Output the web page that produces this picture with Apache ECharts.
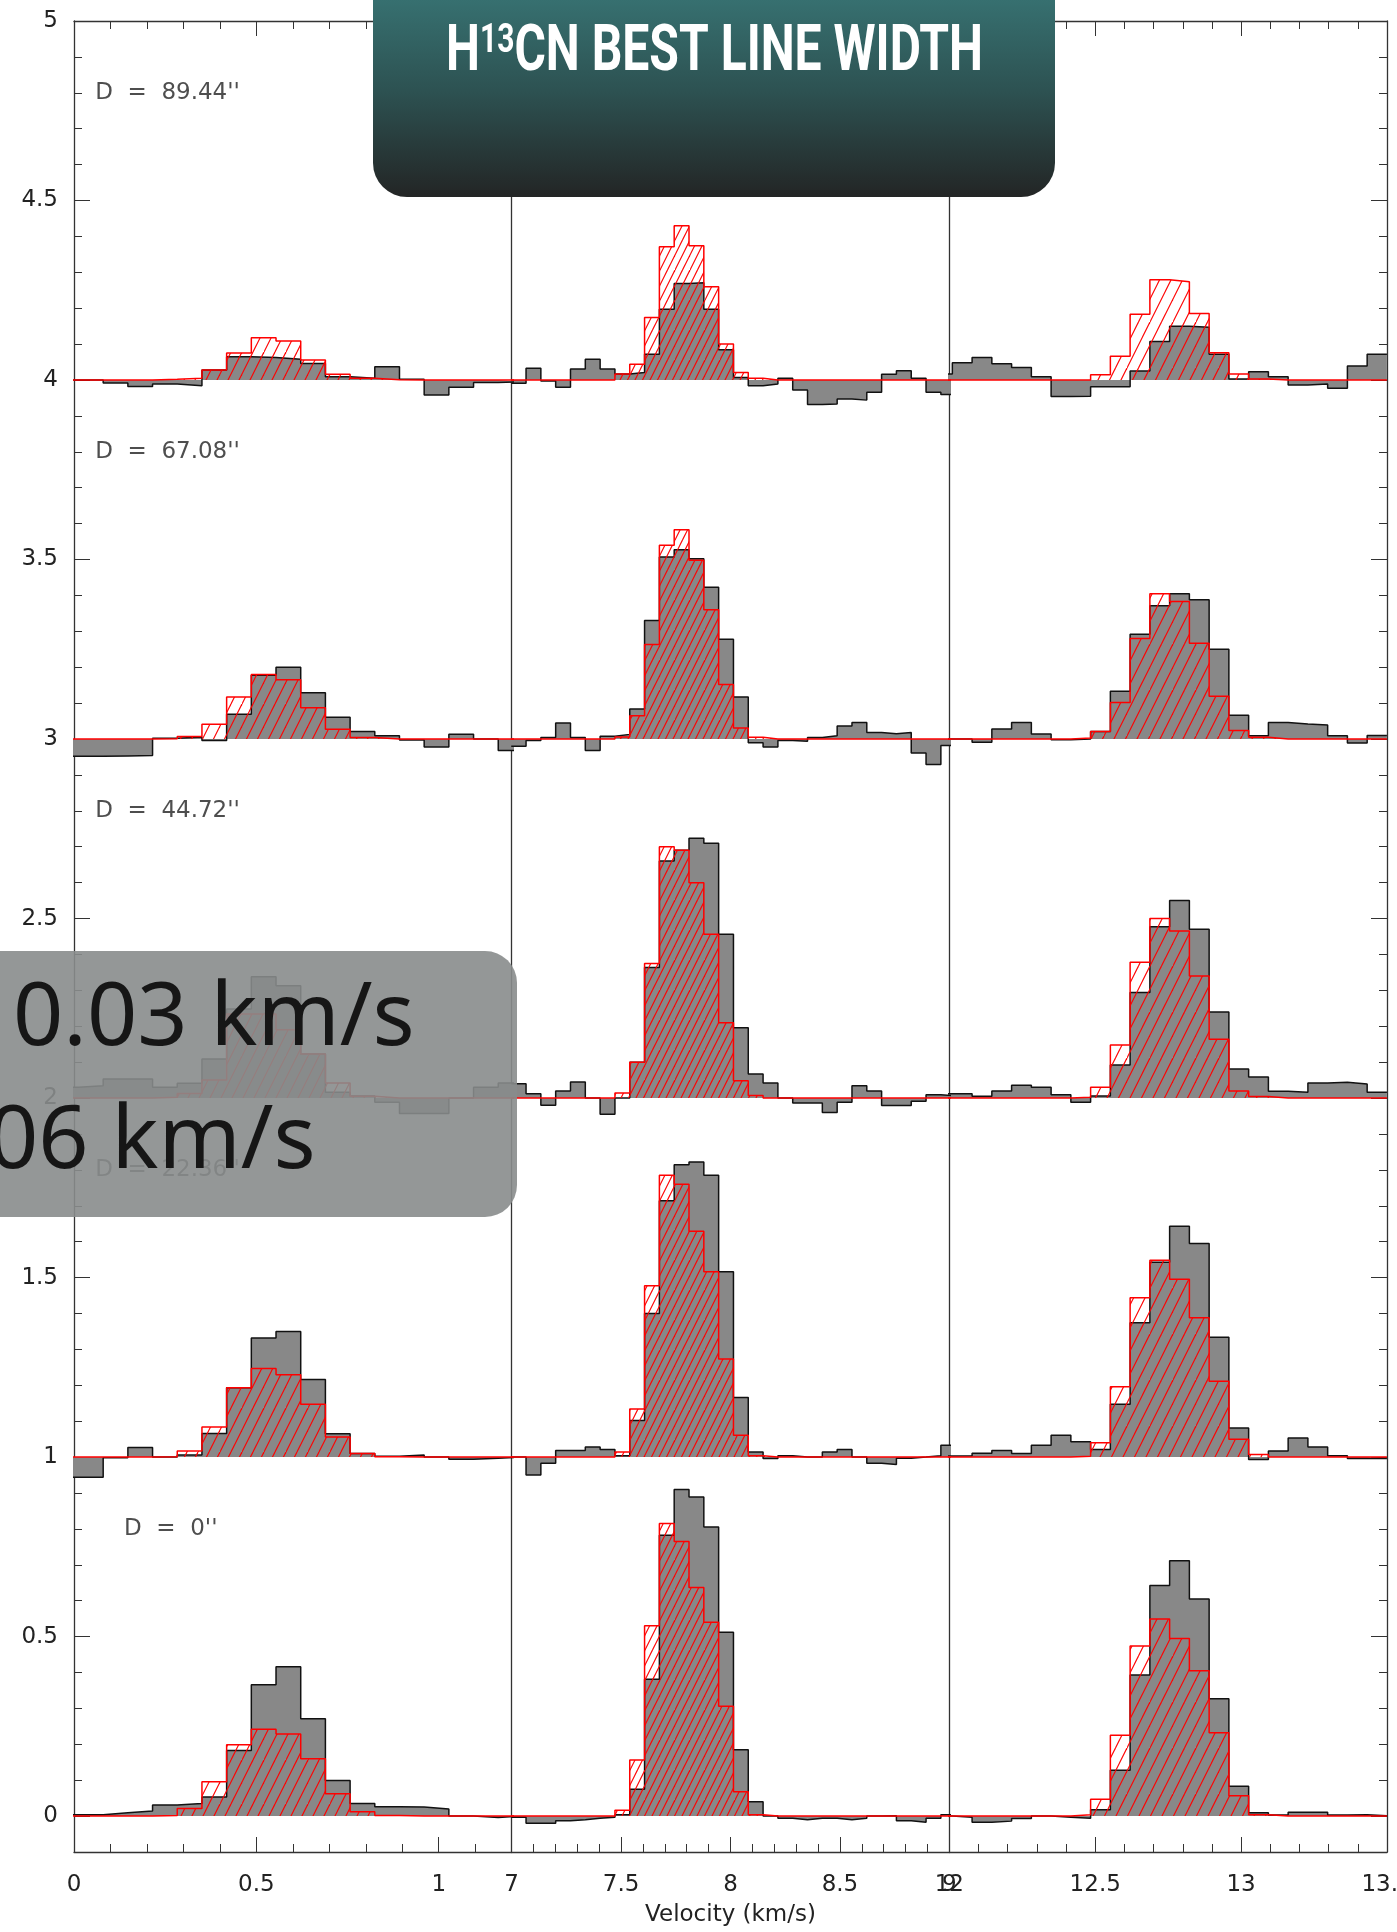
<!DOCTYPE html>
<html>
<head>
<meta charset="utf-8">
<title>H13CN best line width</title>
<script src="https://cdn.jsdelivr.net/npm/echarts@6.0.0/dist/echarts.min.js"></script>
<style>
  * { padding: 0; margin: 0; }
  #main { width: 1397px; height: 1932px; overflow: hidden; }
</style>
</head>
<body>
<div id="main"></div>
<script>
// channel width and first bin edge of each velocity window
var chanWidth = 0.0677;
var panelStart = [-0.0554, 6.998, 11.9426];
var panelRange = [[0, 1.2], [7, 9], [12, 13.5]];
var xMajor = [[0, 0.5, 1], [7, 7.5, 8, 8.5, 9], [12, 12.5, 13, 13.5]];
var yMajor = [0, 0.5, 1, 1.5, 2, 2.5, 3, 3.5, 4, 4.5, 5];
var offsets = [0, 1, 2, 3, 4];
var dLabels = ["D  =  0''", "D  =  22.36''", "D  =  44.72''", "D  =  67.08''", "D  =  89.44''"];
var dLabelX = [0.137, 0.058, 0.058, 0.058, 0.058];

// observed spectra (grey), one row per offset D = 0 ... 89.44
var obs1 = [
  [0.004, 0.004, 0.009, 0.014, 0.031, 0.035, 0.053, 0.183, 0.366, 0.416, 0.271, 0.099, 0.035, 0.026, 0.025, 0.02, 0.0, -0.004, 0.0],
  [-0.056, -0.056, -0.002, 0.027, 0.0, 0.006, 0.066, 0.193, 0.332, 0.35, 0.216, 0.065, 0.01, 0.002, 0.006, 0.0, -0.006, -0.003, 0.0],
  [0.03, 0.034, 0.053, 0.053, 0.03, 0.041, 0.109, 0.248, 0.338, 0.313, 0.123, 0.016, 0.006, -0.012, -0.043, -0.043, 0.0, 0.03, 0.042],
  [-0.048, -0.048, -0.047, -0.046, 0.002, 0.006, -0.004, 0.069, 0.178, 0.2, 0.129, 0.061, 0.021, 0.009, -0.003, -0.022, 0.013, 0.0, -0.032],
  [0.0, 0.0, -0.008, -0.018, -0.011, -0.016, 0.028, 0.065, 0.063, 0.058, 0.046, 0.009, 0.005, 0.037, 0.002, -0.042, -0.02, -0.007, -0.005]
];
var obs2 = [
  [-0.003, -0.02, -0.02, -0.013, -0.01, -0.006, -0.003, 0.004, 0.075, 0.381, 0.782, 0.91, 0.889, 0.805, 0.512, 0.185, 0.04, 0.0, -0.006, -0.01, -0.006, -0.006, -0.01, -0.006, 0.0, 0.001, -0.013, -0.017, -0.006, 0.004],
  [0.0, -0.05, -0.017, 0.018, 0.018, 0.028, 0.021, 0.004, 0.102, 0.4, 0.714, 0.814, 0.822, 0.785, 0.516, 0.166, 0.014, -0.004, 0.004, 0.0, 0.0, 0.014, 0.021, 0.0, -0.017, -0.021, -0.003, 0.0, 0.004, 0.033],
  [0.04, 0.012, -0.02, 0.02, 0.045, 0.0, -0.045, 0.0, 0.1, 0.364, 0.66, 0.69, 0.724, 0.71, 0.456, 0.196, 0.067, 0.042, 0.0, -0.014, -0.014, -0.04, -0.012, 0.034, 0.02, -0.021, -0.021, -0.009, 0.009, 0.006],
  [-0.02, -0.004, 0.004, 0.045, 0.004, -0.032, 0.008, 0.013, 0.084, 0.33, 0.507, 0.527, 0.502, 0.423, 0.278, 0.117, -0.01, -0.022, -0.004, -0.006, 0.004, 0.009, 0.036, 0.046, 0.018, 0.015, 0.018, -0.039, -0.071, -0.018],
  [-0.009, 0.033, -0.003, -0.02, 0.031, 0.058, 0.031, 0.017, 0.021, 0.072, 0.197, 0.269, 0.271, 0.197, 0.084, 0.007, -0.016, -0.011, 0.005, -0.028, -0.068, -0.067, -0.053, -0.056, -0.034, 0.016, 0.026, 0.005, -0.034, -0.04]
];
var obs3 = [
  [0.0, -0.003, -0.017, -0.014, -0.007, 0.0, -0.003, -0.006, 0.018, 0.128, 0.393, 0.642, 0.711, 0.605, 0.327, 0.083, 0.009, 0.003, 0.011, 0.011, 0.003, 0.004, 0.001],
  [0.003, 0.004, 0.011, 0.018, 0.01, 0.033, 0.061, 0.043, 0.021, 0.147, 0.374, 0.543, 0.643, 0.595, 0.334, 0.081, -0.007, 0.017, 0.053, 0.028, 0.004, -0.004, -0.004],
  [0.012, 0.012, 0.005, 0.02, 0.036, 0.03, 0.009, -0.012, 0.006, 0.092, 0.294, 0.477, 0.55, 0.47, 0.24, 0.081, 0.059, 0.019, 0.016, 0.042, 0.044, 0.039, 0.016],
  [0.0, 0.0, -0.009, 0.028, 0.046, 0.014, -0.002, 0.0, 0.021, 0.133, 0.292, 0.371, 0.405, 0.388, 0.25, 0.066, 0.009, 0.046, 0.042, 0.039, 0.009, -0.011, 0.01],
  [0.017, 0.048, 0.063, 0.045, 0.035, 0.009, -0.046, -0.045, -0.019, -0.019, 0.025, 0.107, 0.15, 0.147, 0.072, 0.003, 0.023, 0.009, -0.014, -0.011, -0.023, 0.039, 0.072]
];

// best-fit model spectra (red hatched)
var mod1 = [
  [0, 0, 0, 0, 0.002, 0.021, 0.096, 0.199, 0.242, 0.229, 0.16, 0.062, 0.012, 0.002, 0, 0, 0, 0, 0],
  [0, 0, 0, 0, 0.001, 0.017, 0.084, 0.193, 0.247, 0.229, 0.147, 0.056, 0.01, 0.001, 0, 0, 0, 0, 0],
  [0, 0, 0, 0, 0.002, 0.013, 0.05, 0.234, 0.234, 0.19, 0.123, 0.042, 0.005, 0, 0, 0, 0, 0, 0],
  [0, 0, 0, 0, 0.001, 0.007, 0.041, 0.117, 0.18, 0.165, 0.087, 0.027, 0.004, 0, 0, 0, 0, 0, 0],
  [0, 0, 0, 0, 0.002, 0.005, 0.028, 0.075, 0.118, 0.109, 0.056, 0.016, 0.005, 0.001, 0, 0, 0, 0, 0]
];
var mod2 = [
  [0, 0, 0, 0, 0, 0, 0, 0.016, 0.156, 0.53, 0.815, 0.765, 0.637, 0.54, 0.306, 0.068, 0.004, 0, 0, 0, 0, 0, 0, 0, 0, 0, 0, 0, 0, 0],
  [0, 0, 0, 0, 0, 0, 0, 0.014, 0.134, 0.477, 0.785, 0.76, 0.629, 0.516, 0.273, 0.061, 0.004, 0, 0, 0, 0, 0, 0, 0, 0, 0, 0, 0, 0, 0],
  [0, 0, 0, 0, 0, 0, 0, 0.014, 0.1, 0.375, 0.7, 0.69, 0.6, 0.456, 0.21, 0.048, 0.007, 0, 0, 0, 0, 0, 0, 0, 0, 0, 0, 0, 0, 0],
  [0, 0, 0, 0, 0, 0, 0, 0.006, 0.065, 0.263, 0.54, 0.583, 0.498, 0.36, 0.152, 0.031, 0.005, 0, 0, 0, 0, 0, 0, 0, 0, 0, 0, 0, 0, 0],
  [0, 0, 0, 0, 0, 0, 0, 0.017, 0.044, 0.174, 0.371, 0.43, 0.374, 0.26, 0.1, 0.021, 0.005, 0, 0, 0, 0, 0, 0, 0, 0, 0, 0, 0, 0, 0]
];
var mod3 = [
  [0, 0, 0, 0, 0, 0, 0, 0.004, 0.047, 0.225, 0.474, 0.549, 0.495, 0.405, 0.232, 0.057, 0.004, 0, 0, 0, 0, 0, 0],
  [0, 0, 0, 0, 0, 0, 0, 0.002, 0.04, 0.196, 0.444, 0.548, 0.495, 0.388, 0.211, 0.05, 0.007, 0, 0, 0, 0, 0, 0],
  [0, 0, 0, 0, 0, 0, 0, 0.002, 0.03, 0.148, 0.378, 0.5, 0.465, 0.34, 0.164, 0.02, 0.004, 0, 0, 0, 0, 0, 0],
  [0, 0, 0, 0, 0, 0, 0, 0.003, 0.021, 0.102, 0.28, 0.405, 0.383, 0.267, 0.119, 0.024, 0.005, 0, 0, 0, 0, 0, 0],
  [0, 0, 0, 0, 0, 0, 0, 0, 0.015, 0.066, 0.183, 0.279, 0.274, 0.185, 0.076, 0.017, 0.003, 0, 0, 0, 0, 0, 0]
];
var obsAll = [obs1, obs2, obs3];
var modAll = [mod1, mod2, mod3];

function steps(lo, hi) {
  var out = [];
  for (var v = Math.round(lo * 10); v <= Math.round(hi * 10); v++) out.push(v / 10);
  return out;
}

function stepData(start, vals, base) {
  var d = [];
  for (var i = 0; i < vals.length; i++) d.push([start + i * chanWidth, base + vals[i]]);
  d.push([start + vals.length * chanWidth, base + vals[vals.length - 1]]);
  return d;
}

function makeHatch(spacing) {
  var w = Math.round(spacing * 2), h = w * 2;
  var c = document.createElement('canvas');
  c.width = w; c.height = h;
  var ctx = c.getContext('2d');
  ctx.strokeStyle = '#ff0000';
  ctx.lineWidth = 1.2;
  [-w, -w / 2, 0, w / 2].forEach(function (a) {
    ctx.beginPath(); ctx.moveTo(a, h); ctx.lineTo(a + w, 0); ctx.stroke();
  });
  return c;
}
var hatch = [makeHatch(11), makeHatch(7.5), makeHatch(11.5)];

var lineCol = '#333';
var fontTick = 'DejaVu Sans';
var gridW = 1313 / 3;

var grids = [], xAxes = [], yAxes = [], series = [];
for (var p = 0; p < 3; p++) {
  grids.push({ left: 74 + p * gridW, width: gridW, top: 21, height: 1831, outerBoundsMode: 'none', containLabel: false });
  var lo = panelRange[p][0], hi = panelRange[p][1];
  var minors = steps(lo, hi);
  var base = { type: 'value', gridIndex: p, min: lo, max: hi, splitLine: { show: false } };
  xAxes.push(Object.assign({}, base, {
    position: 'bottom',
    axisLine: { show: true, onZero: false, lineStyle: { color: lineCol, width: 1.3 } },
    axisTick: { show: true, inside: true, length: 15, customValues: xMajor[p], lineStyle: { color: lineCol } },
    axisLabel: { show: true, customValues: xMajor[p], margin: 22, color: '#222', fontSize: 23, fontFamily: fontTick,
      formatter: function (v) { return String(+(+v).toFixed(2)); } },
    name: p === 1 ? 'Velocity (km/s)' : '',
    nameLocation: 'middle', nameGap: 52,
    nameTextStyle: { color: '#222', fontSize: 23, fontFamily: fontTick }
  }));
  xAxes.push(Object.assign({}, base, {
    position: 'bottom',
    axisLine: { show: false, onZero: false },
    axisTick: { show: true, inside: true, length: 8, customValues: minors, lineStyle: { color: lineCol } },
    axisLabel: { show: false }
  }));
  xAxes.push(Object.assign({}, base, {
    position: 'top',
    axisLine: { show: true, onZero: false, lineStyle: { color: lineCol, width: 1.3 } },
    axisTick: { show: true, inside: true, length: 15, customValues: xMajor[p], lineStyle: { color: lineCol } },
    axisLabel: { show: false }
  }));
  xAxes.push(Object.assign({}, base, {
    position: 'top',
    axisLine: { show: false, onZero: false },
    axisTick: { show: true, inside: true, length: 8, customValues: minors, lineStyle: { color: lineCol } },
    axisLabel: { show: false }
  }));
  yAxes.push({
    type: 'value', gridIndex: p, min: -0.1, max: 5, position: 'left',
    axisLine: { show: true, onZero: false, lineStyle: { color: lineCol, width: 1.3 } },
    axisTick: { show: false }, axisLabel: { show: false }, splitLine: { show: false }
  });
}
var yMinors = steps(-0.1, 5);
[[0, 'left'], [2, 'right']].forEach(function (s) {
  yAxes.push({
    type: 'value', gridIndex: s[0], min: -0.1, max: 5, position: s[1],
    axisLine: { show: s[1] === 'right', onZero: false, lineStyle: { color: lineCol, width: 1.3 } },
    axisTick: { show: true, inside: true, length: 16, customValues: yMajor, lineStyle: { color: lineCol } },
    axisLabel: { show: s[1] === 'left', customValues: yMajor, margin: 16, color: '#222', fontSize: 23, fontFamily: fontTick,
      formatter: function (v) { return String(+(+v).toFixed(2)); } },
    splitLine: { show: false }
  });
  yAxes.push({
    type: 'value', gridIndex: s[0], min: -0.1, max: 5, position: s[1],
    axisLine: { show: false, onZero: false },
    axisTick: { show: true, inside: true, length: 8, customValues: yMinors, lineStyle: { color: lineCol } },
    axisLabel: { show: false }, splitLine: { show: false }
  });
});

for (var q = 0; q < 3; q++) {
  for (var r = 0; r < offsets.length; r++) {
    series.push({
      type: 'line', xAxisIndex: q * 4, yAxisIndex: q, step: 'end', symbol: 'none', silent: true, z: 2,
      data: stepData(panelStart[q], obsAll[q][r], offsets[r]),
      lineStyle: { color: '#111', width: 1.5 },
      areaStyle: { color: '#888888', opacity: 1, origin: offsets[r] }
    });
    series.push({
      type: 'line', xAxisIndex: q * 4, yAxisIndex: q, step: 'end', symbol: 'none', silent: true, z: 3,
      data: stepData(panelStart[q], modAll[q][r], offsets[r]),
      lineStyle: { color: '#ff0000', width: 1.5 },
      areaStyle: { color: { image: hatch[q], repeat: 'repeat' }, opacity: 1, origin: offsets[r] }
    });
  }
}
series.push({
  type: 'scatter', xAxisIndex: 0, yAxisIndex: 0, symbolSize: 0, silent: true, z: 4,
  data: offsets.map(function (o, i) { return [dLabelX[i], o + 0.8, dLabels[i]]; }),
  label: { show: true, position: 'right', distance: 0, color: '#222', fontSize: 23, fontFamily: fontTick,
    formatter: function (pr) { return pr.data[2]; } }
});

function measure(txt, font) {
  var ctx = document.createElement('canvas').getContext('2d');
  ctx.font = font;
  return ctx.measureText(txt).width;
}
var titleW = measure('H', 'bold 64px Roboto') + measure('13', 'bold 40px Roboto') + measure('CN BEST LINE WIDTH', 'bold 64px Roboto');
var titleScale = 537 / titleW;

var myChart = echarts.init(document.getElementById('main'), null, { renderer: 'canvas' });
myChart.setOption({
  animation: false,
  backgroundColor: '#ffffff',
  grid: grids,
  xAxis: xAxes,
  yAxis: yAxes,
  series: series,
  graphic: [
    { type: 'rect', z: 100, shape: { x: 373, y: -40, width: 682, height: 237, r: 34 },
      style: { fill: new echarts.graphic.LinearGradient(0, 0, 0, 1, [
        { offset: 0, color: '#3b7d7d' }, { offset: 0.55, color: '#2d5252' }, { offset: 1, color: '#232525' }]) } },
    { type: 'text', z: 101, x: 714.5, y: 54, scaleX: titleScale,
      style: { text: '{a|H}{b|13}{a|CN BEST LINE WIDTH}', align: 'center', verticalAlign: 'middle',
        rich: {
          a: { fontSize: 64, fontFamily: 'Roboto', fontWeight: 'bold', fill: '#ffffff' },
          b: { fontSize: 40, fontFamily: 'Roboto', fontWeight: 'bold', fill: '#ffffff', verticalAlign: 'top' }
        } } },
    { type: 'rect', z: 100, shape: { x: -40, y: 951, width: 557, height: 266, r: 32 },
      style: { fill: 'rgba(136,140,140,0.9)' } },
    { type: 'text', z: 101, x: 13, y: 1020,
      style: { text: '0.03 km/s', fontSize: 88, fontFamily: 'Noto Sans', fill: '#161616', verticalAlign: 'middle' } },
    { type: 'text', z: 101, x: -86, y: 1143,
      style: { text: '0.06 km/s', fontSize: 88, fontFamily: 'Noto Sans', fill: '#161616', verticalAlign: 'middle' } }
  ]
});
</script>
</body>
</html>
